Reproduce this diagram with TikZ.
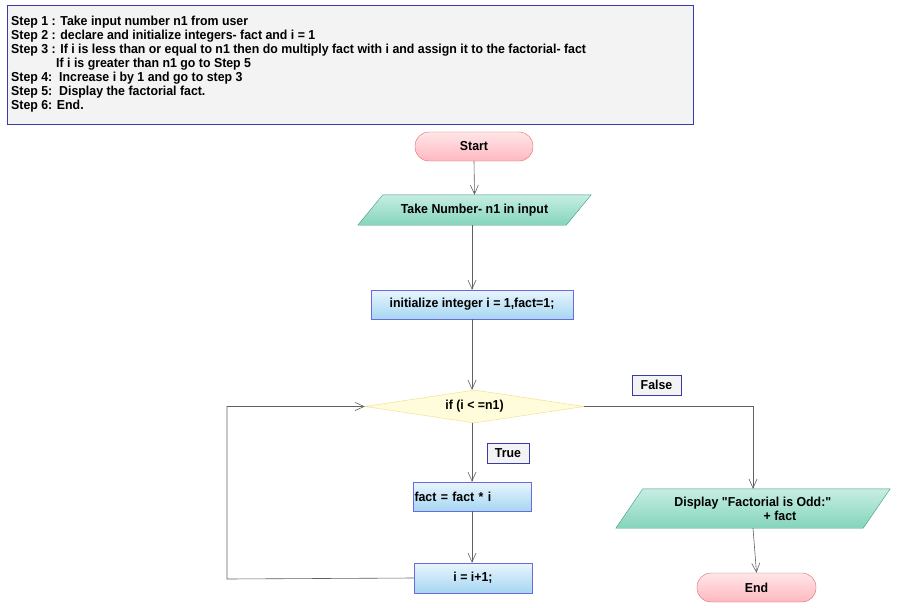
\documentclass[tikz,border=0pt]{standalone}
\usepackage{fontspec}
\setmainfont[FakeStretch=0.95]{Liberation Sans}
\usetikzlibrary{arrows.meta,shapes.geometric,backgrounds}

\definecolor{notefill}{HTML}{F3F3F3}
\definecolor{notedraw}{HTML}{3A3AAA}
\definecolor{termtop}{HTML}{FFE6E8}
\definecolor{termbot}{HTML}{FFB8C0}
\definecolor{termdraw}{HTML}{E06868}
\definecolor{iotop}{HTML}{C6EEE2}
\definecolor{iobot}{HTML}{84D4BC}
\definecolor{iodraw}{HTML}{3E9A86}
\definecolor{proctop}{HTML}{E8F5FD}
\definecolor{procbot}{HTML}{A6D6F2}
\definecolor{procdraw}{HTML}{6A6ADE}
\definecolor{decfill}{HTML}{FFFCDC}
\definecolor{decdraw}{HTML}{F0DC80}
\definecolor{linecol}{HTML}{606060}

\tikzset{
  note/.style={draw=notedraw, fill=notefill, line width=0.8pt, inner sep=0},
  term/.style={draw=termdraw, top color=termtop, bottom color=termbot,
    rounded corners=14pt, minimum width=118pt, minimum height=29pt, inner sep=0},
  proc/.style={draw=procdraw, top color=proctop, bottom color=procbot,
    minimum height=29pt, inner sep=0},
  iotext/.style={inner sep=0, align=center},
  iofill/.style={draw=iodraw, top color=iotop, bottom color=iobot},
  decision/.style={diamond, draw=decdraw, fill=decfill, aspect=6.6,
    minimum width=219pt, minimum height=33pt, inner sep=0},
  tag/.style={draw=notedraw, fill=notefill, minimum height=20pt, inner sep=0},
  arr/.style={draw=linecol, line width=0.6pt,
    -{Straight Barb[length=9pt,width=8pt,line width=0.6pt]}},
}

\begin{document}
\begin{tikzpicture}[x=1pt, y=-1pt, font=\bfseries\fontsize{13}{14}\selectfont]
\useasboundingbox (0,0) rectangle (900,608);

% algorithm steps
\node[note, minimum width=686pt, minimum height=119pt] (steps) at (350,64.5) {};
\node[anchor=north west, align=left, inner sep=0] (steptext) at (11,16) {%
Step 1 : Take input number n1 from user\\
Step 2 : declare and initialize integers- fact and i = 1\\
Step 3 : If i is less than or equal to n1 then do multiply fact with i and assign it to the factorial- fact\\
\hspace*{45pt}If i is greater than n1 go to Step 5\\
Step 4:\ \ Increase i by 1 and go to step 3\\
Step 5:\ \ Display the factorial fact.\\
Step 6: End.};

% flowchart nodes
\node[term] (start) at (474,146.5) {Start};
\node[iotext, minimum width=208pt, minimum height=30pt] (input) at (474.5,210) {Take Number- n1 in input};
\node[proc, minimum width=202pt] (init) at (472,304.5) {initialize integer i = 1,fact=1;};
\node[decision] (cond) at (474.5,406.5) {if (i < =n1)};
\node[tag, minimum width=42pt] (truetag) at (508,453) {True};
\node[tag, minimum width=49pt] (falsetag) at (656.5,385) {False};
\node[proc, minimum width=118pt, text width=115pt, align=left, inner xsep=1.5pt] (mult) at (472,496.5) {fact = fact * i};
\node[proc, minimum width=118pt, minimum height=30pt] (inc) at (473,578) {i = i+1;};
\node[iotext, minimum width=247pt, minimum height=39pt] (disp) at (753,508.5)
  {Display \textquotedbl Factorial is Odd:\textquotedbl\\ \hspace*{54pt}+ fact};
\node[term, minimum width=119pt] (endn) at (756.5,587.5) {End};

% parallelogram outlines behind the input/output texts
\begin{scope}[on background layer]
\path[iofill] ([xshift=-12.5pt]input.south west) -- ([xshift=-12.5pt]input.south east)
  -- ([xshift=12.5pt]input.north east) -- ([xshift=12.5pt]input.north west) -- cycle;
\path[iofill] ([xshift=-13.5pt]disp.south west) -- ([xshift=-13.5pt]disp.south east)
  -- ([xshift=13.5pt]disp.north east) -- ([xshift=13.5pt]disp.north west) -- cycle;
\end{scope}

% connectors
\coordinate (loopcorner) at (227,579);
\draw[arr] (start.south) -- (input.north);
\draw[arr] (init.north |- input.south) -- (init.north);
\draw[arr] (init.south) -- (init.south |- cond.north);
\draw[arr] (mult.north |- cond.south) -- (mult.north);
\draw[arr] (mult.south) -- (mult.south |- inc.north);
\draw[arr] (inc.west) -- (loopcorner) |- (cond.west);
\draw[arr] (cond.east) -| (disp.north);
\draw[arr] (disp.south) -- (endn.north);
\end{tikzpicture}
\end{document}
